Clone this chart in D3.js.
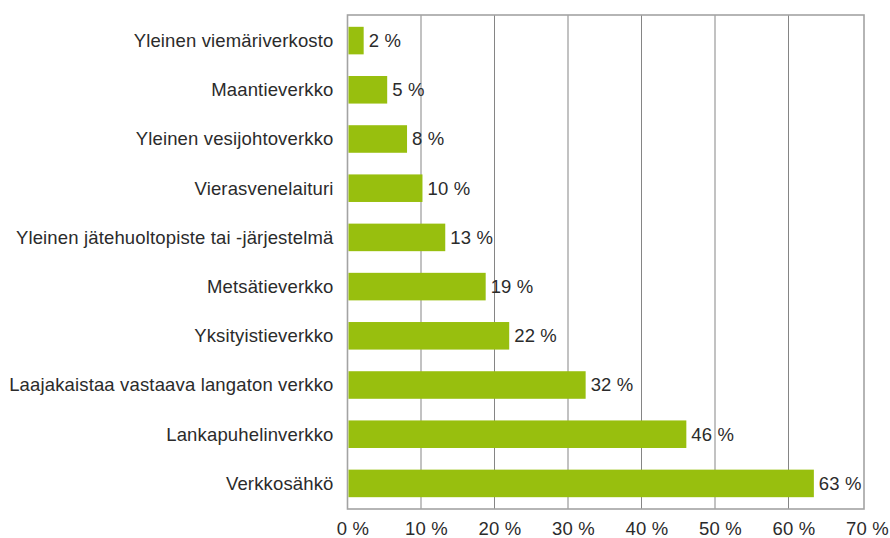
<!DOCTYPE html>
<html>
<head>
<meta charset="utf-8">
<script src="https://cdn.jsdelivr.net/npm/d3@7"></script>
<style>
  body { margin: 0; background: #fff; }
  svg text { font-family: "Liberation Sans", Arial, sans-serif; letter-spacing: 0.15px; }
</style>
</head>
<body>
<svg id="chart" width="890" height="538"></svg>
<script>
// categories, top to bottom
const categories = [
    'Yleinen viemäriverkosto',
    'Maantieverkko',
    'Yleinen vesijohtoverkko',
    'Vierasvenelaituri',
    'Yleinen jätehuoltopiste tai -järjestelmä',
    'Metsätieverkko',
    'Yksityistieverkko',
    'Laajakaistaa vastaava langaton verkko',
    'Lankapuhelinverkko',
    'Verkkosähkö'
];
// share in percent
const values = [2.2, 5.4, 8.1, 10.2, 13.3, 18.8, 22.0, 32.4, 46.1, 63.45];
const xTicks = [0, 10, 20, 30, 40, 50, 60, 70];

const BAR_COLOR = '#98bf0e';
const TEXT_COLOR = '#2b2b2b';
const FONT_SIZE = '18.5px';

const plot = { left: 347.5, right: 862, top: 15, bottom: 509 };

const svg = d3.select('#chart');

var x = d3.scaleLinear()
    .domain([0, 70])
    .range([plot.left, plot.right]);

var y = d3.scaleBand()
    .domain(categories)
    .range([plot.top, plot.bottom])
    .paddingInner(0.44)
    .paddingOuter(0.24);

// vertical gridlines
svg.append('g').selectAll('line')
    .data(xTicks.slice(1, -1))
    .enter()
    .append('line')
    .attr('x1', d => x(d)).attr('x2', d => x(d))
    .attr('y1', plot.top).attr('y2', plot.bottom)
    .style('stroke', '#858585')
    .style('stroke-width', 1);

// frame
svg.append('rect')
    .attr('x', x(0))
    .attr('y', plot.top)
    .attr('width', x(70) - x(0) + 2)
    .attr('height', plot.bottom - plot.top)
    .style('fill', 'none')
    .style('stroke', '#a3a3a3')
    .style('stroke-width', 1.6);

// bars
svg.append('g').selectAll('rect')
    .data(values)
    .enter()
    .append('rect')
    .attr('x', x(0) + 1)
    .attr('y', (d, i) => y(categories[i]))
    .attr('width', d => x(d) - x(0) - 1)
    .attr('height', y.bandwidth())
    .style('fill', BAR_COLOR);

// value labels
svg.append('g').selectAll('text')
    .data(values)
    .enter()
    .append('text')
    .attr('x', d => x(d) + 5)
    .attr('y', (d, i) => y(categories[i]) + y.bandwidth() / 2)
    .attr('dy', '0.35em')
    .style('font-size', FONT_SIZE)
    .style('fill', TEXT_COLOR)
    .text(d => d3.format('.0f')(d) + ' %');

// category labels
svg.append('g').selectAll('text')
    .data(categories)
    .enter()
    .append('text')
    .attr('x', plot.left - 14)
    .attr('y', d => y(d) + y.bandwidth() / 2)
    .attr('dy', '0.35em')
    .attr('text-anchor', 'end')
    .style('font-size', FONT_SIZE)
    .style('fill', TEXT_COLOR)
    .text(d => d);

// x axis labels
var xAxis = d3.axisBottom(x)
    .tickValues(xTicks)
    .tickSize(0)
    .tickPadding(13)
    .tickFormat(d => d + ' %');

var axisGroup = svg.append('g')
    .attr('transform', 'translate(' + [0, plot.bottom] + ')')
    .call(xAxis);
axisGroup.select('.domain').remove();
axisGroup.selectAll('text')
    .attr('dx', 5)
    .style('font-size', FONT_SIZE)
    .style('font-family', '"Liberation Sans", Arial, sans-serif')
    .style('fill', TEXT_COLOR);
</script>
</body>
</html>
